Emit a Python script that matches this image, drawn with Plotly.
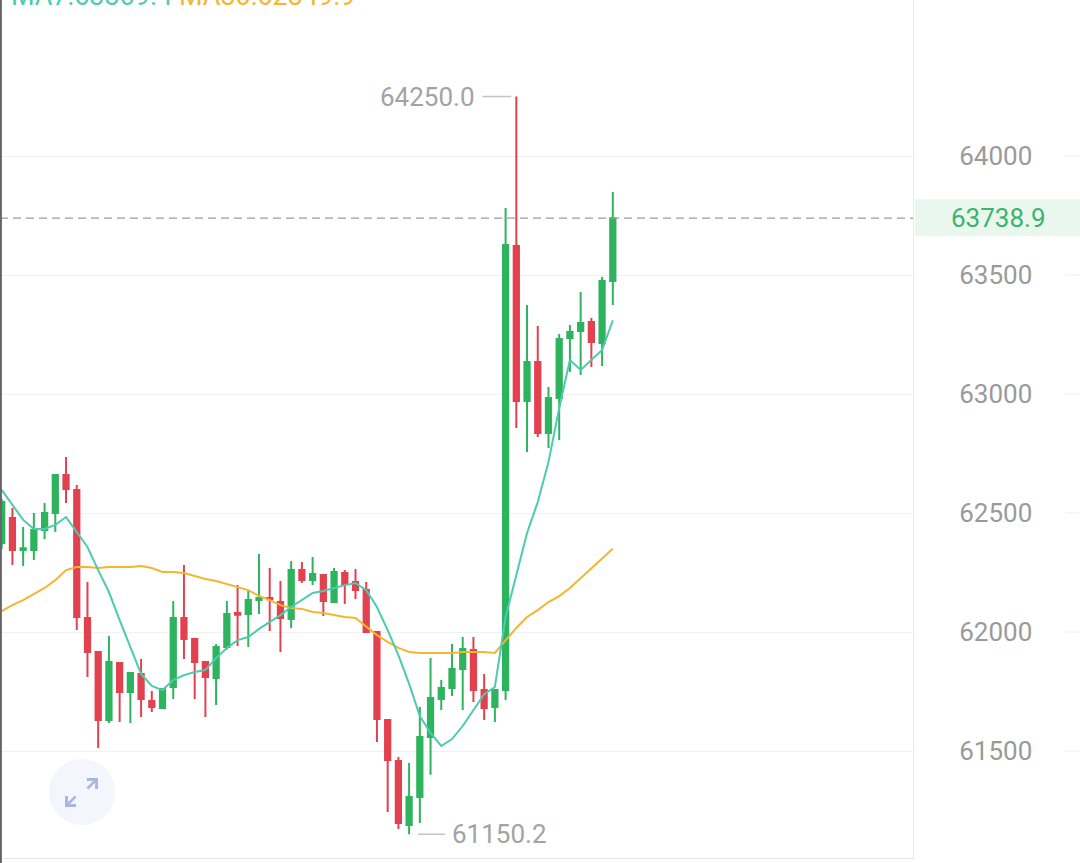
import plotly.graph_objects as go

# ---------------- data ----------------
idx = list(range(58))
opens = [62374, 62479, 62345, 62345, 62429, 62500, 62660, 62597, 62059, 61916,
         61630, 61870, 61748, 61824, 61710, 61681, 61769, 62059, 61971, 61874,
         61807, 61937, 62080, 62076, 62134, 62143, 62126, 62055, 62260, 62218,
         62239, 62126, 62248, 62210, 62176, 62000, 61630, 61458, 61189, 61307,
         61559, 61718, 61765, 61845, 61924, 61756, 61685, 61756, 63622, 62971,
         63134, 62836, 62983, 63235, 63265, 63303, 63214, 63475]
highs = [62560, 62521, 62441, 62500, 62542, 62660, 62735, 62618, 62210, 61916,
         61983, 61870, 61828, 61887, 61752, 61765, 62130, 62282, 61971, 61874,
         61950, 62130, 62197, 62172, 62328, 62269, 62214, 62298, 62294, 62315,
         62239, 62269, 62260, 62265, 62210, 62000, 61630, 61475, 61450, 61685,
         61891, 61798, 61950, 61979, 61979, 61824, 61756, 63782, 64250, 63374,
         63286, 63029, 63252, 63290, 63429, 63319, 63492, 63849]
lows = [62350, 62281, 62277, 62303, 62391, 62420, 62542, 62008, 61811, 61513,
        61618, 61622, 61618, 61643, 61664, 61677, 61718, 61887, 61718, 61643,
        61693, 61925, 61941, 61937, 62076, 62004, 61916, 62017, 62206, 62197,
        62067, 62126, 62118, 62139, 61996, 61538, 61244, 61172, 61150.2, 61197,
        61400, 61672, 61731, 61672, 61706, 61630, 61622, 61714, 62857, 62756,
        62819, 62773, 62807, 63092, 63080, 63113, 63118, 63374]
closes = [62546, 62345, 62352, 62429, 62500, 62660, 62601, 62063, 61916, 61630,
          61874, 61748, 61828, 61718, 61685, 61761, 62059, 61971, 61874, 61811,
          61937, 62076, 62072, 62134, 62143, 62138, 62059, 62260, 62218, 62244,
          62130, 62252, 62202, 62176, 62000, 61634, 61462, 61197, 61307, 61559,
          61723, 61765, 61845, 61929, 61756, 61681, 61756, 63626, 62971, 63134,
          62836, 62983, 63231, 63261, 63298, 63218, 63475, 63738.9]
ma7 = [62597, 62534, 62471, 62433, 62433, 62450, 62483, 62420, 62357, 62260,
       62168, 62050, 61937, 61824, 61773, 61756, 61798, 61819, 61832, 61840,
       61891, 61933, 61966, 61979, 62013, 62042, 62071, 62105, 62134, 62164,
       62172, 62185, 62197, 62206, 62176, 62105, 62008, 61903, 61782, 61647,
       61576, 61521, 61550, 61605, 61672, 61739, 61769, 62063, 62239, 62416,
       62546, 62714, 62941, 63143, 63101, 63143, 63185, 63309.4]
ma30 = [62088, 62113, 62134, 62160, 62185, 62218, 62260, 62273, 62273, 62269,
        62273, 62273, 62273, 62277, 62269, 62252, 62252, 62248, 62235, 62223,
        62214, 62202, 62189, 62176, 62151, 62134, 62113, 62101, 62097, 62084,
        62080, 62071, 62063, 62059, 62021, 61987, 61958, 61933, 61916, 61912,
        61912, 61912, 61912, 61916, 61916, 61916, 61912, 61966, 62017, 62063,
        62092, 62126, 62151, 62185, 62227, 62269, 62311, 62349.9]
price_ticks = [61500, 62000, 62500, 63000, 63500, 64000]
tick_labels = ["61500", "62000", "62500", "63000", "63500", "64000"]
last_price = 63738.9
high_idx, high_text = 48, "64250.0"
low_idx, low_text = 38, "61150.2"
ma7_text = "MA7:63309.4"
ma30_text = "MA30:62349.9"

# ---------------- styling ----------------
GREEN = "#2eb35e"
RED = "#e2414f"
TEAL = "#4ccbae"
ORANGE = "#f2b630"
FONT = "Roboto, sans-serif"
PLOT_W = 913
PLOT_H = 858

fig = go.Figure()
fig.add_trace(go.Candlestick(
    x=idx, open=opens, high=highs, low=lows, close=closes,
    increasing=dict(line=dict(color=GREEN, width=2), fillcolor=GREEN),
    decreasing=dict(line=dict(color=RED, width=2), fillcolor=RED),
    whiskerwidth=0, hoverinfo="skip"))
fig.add_trace(go.Scatter(x=idx, y=ma30, mode="lines",
                         line=dict(color=ORANGE, width=2), hoverinfo="skip"))
fig.add_trace(go.Scatter(x=idx, y=ma7, mode="lines",
                         line=dict(color=TEAL, width=2), hoverinfo="skip"))

shapes = []
# current price dashed line
shapes.append(dict(type="line", xref="paper", yref="y", x0=0, x1=1,
                   y0=last_price, y1=last_price,
                   line=dict(color="#9c9c9c", width=1.3, dash="8px,5px")))
# current price label box
shapes.append(dict(type="rect", xref="paper", yref="y",
                   x0=915 / PLOT_W, x1=1080 / PLOT_W,
                   ysizemode="pixel", yanchor=last_price, y0=-18, y1=19,
                   fillcolor="#e9f7ef", line=dict(width=0), layer="below"))
# grid continuation at far right
for v in price_ticks:
    shapes.append(dict(type="line", xref="paper", yref="y",
                       x0=1065 / PLOT_W, x1=1080 / PLOT_W, y0=v, y1=v,
                       line=dict(color="#eeeeee", width=1)))
# high / low leader lines
shapes.append(dict(type="line", xref="x", yref="y", xsizemode="pixel",
                   xanchor=high_idx, x0=-34, x1=-5, y0=highs[high_idx], y1=highs[high_idx],
                   line=dict(color="#c4c4c4", width=1.5)))
shapes.append(dict(type="line", xref="x", yref="y", xsizemode="pixel",
                   xanchor=low_idx, x0=9, x1=36, y0=lows[low_idx], y1=lows[low_idx],
                   line=dict(color="#c4c4c4", width=1.5)))
# left border
shapes.append(dict(type="line", xref="paper", yref="paper", x0=0.001, x1=0.001,
                   y0=-0.01, y1=1, line=dict(color="#666666", width=2)))
# expand button circle
shapes.append(dict(type="circle", xref="paper", yref="paper",
                   xsizemode="pixel", ysizemode="pixel",
                   xanchor=82 / PLOT_W, yanchor=1 - 792 / PLOT_H,
                   x0=-33, x1=33, y0=-33, y1=33,
                   fillcolor="#f3f6fc", line=dict(width=0), layer="above"))

annotations = []
annotations.append(dict(xref="paper", yref="paper", x=9 / PLOT_W, y=1,
                        xanchor="left", yanchor="bottom", yshift=-14, showarrow=False,
                        text=f"<span style='color:{TEAL}'>{ma7_text}</span> "
                             f"<span style='color:{ORANGE}'>{ma30_text}</span>",
                        font=dict(family=FONT, size=27)))
annotations.append(dict(xref="x", yref="y", x=high_idx, y=highs[high_idx],
                        xanchor="right", xshift=-39, showarrow=False, text=high_text,
                        font=dict(family=FONT, size=26, color="#a3a3a3")))
annotations.append(dict(xref="x", yref="y", x=low_idx, y=lows[low_idx],
                        xanchor="left", xshift=41, showarrow=False, text=low_text,
                        font=dict(family=FONT, size=26, color="#a3a3a3")))
annotations.append(dict(xref="paper", yref="y", x=998 / PLOT_W, y=last_price,
                        xanchor="center", showarrow=False, text=f"{last_price:.1f}",
                        font=dict(family=FONT, size=26, color="#3cb46c")))
# expand icon arrows
for hx, hy, ax, ay in [(98, 778, -12, 12), (65, 807, 12, -12)]:
    annotations.append(dict(xref="paper", yref="paper", x=hx / PLOT_W, y=1 - hy / PLOT_H,
                            ax=ax, ay=ay, text="", showarrow=True, arrowhead=4,
                            arrowsize=1, arrowwidth=2.6, arrowcolor="#a9b6de"))

fig.update_layout(
    width=1080, height=863,
    margin=dict(l=0, r=167, t=0, b=5),
    paper_bgcolor="white", plot_bgcolor="white",
    showlegend=False, font=dict(family=FONT),
    shapes=shapes, annotations=annotations,
)
fig.update_xaxes(range=[-0.159, 85.0], showgrid=False, zeroline=False,
                 showticklabels=False, ticks="", showline=True,
                 linecolor="#e6e6e6", linewidth=1, rangeslider_visible=False)
fig.update_yaxes(range=[61050.4, 64655.5], side="right",
                 tickvals=price_ticks, ticktext=tick_labels,
                 tickfont=dict(family=FONT, size=26, color="#9a9a9a"),
                 showgrid=True, gridcolor="#f1f1f1", gridwidth=1,
                 zeroline=False, showline=True, linecolor="#ebebeb", linewidth=1,
                 ticks="", ticklabelstandoff=40)

fig.write_html("out.html", config={"displayModeBar": False},
               post_script="document.body.style.margin='0';document.body.style.overflow='hidden';")
